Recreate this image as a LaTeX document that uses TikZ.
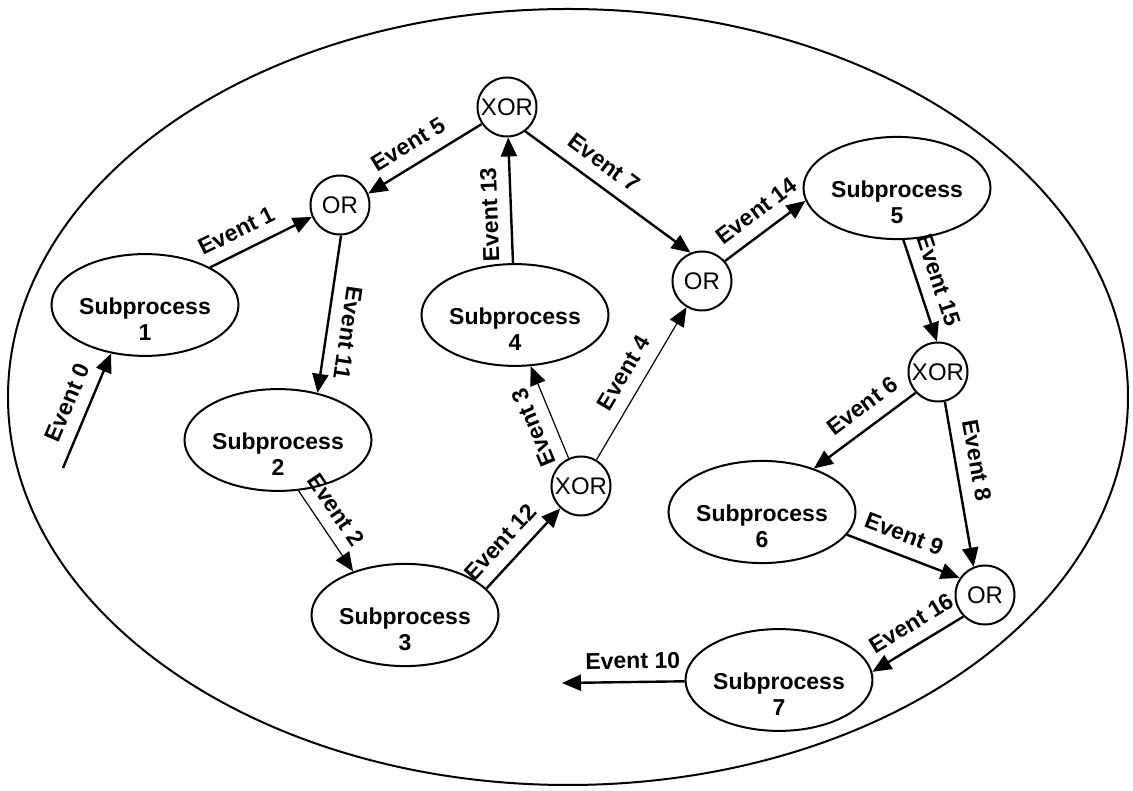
\documentclass[tikz,border=0pt]{standalone}
\usepackage{fontspec}
\setmainfont{Liberation Sans}
\usepackage{tikz}
\usetikzlibrary{arrows.meta, shapes.geometric, positioning}
\tikzset{
    boundary/.style = {draw, ellipse, line width=2pt, minimum width=1120pt, minimum height=776pt, 
      inner sep=0em, node distance=0em},
    subnode/.style = {draw, ellipse, line width=2pt, inner sep=0em, minimum width=187pt, 
      minimum height=84pt, node distance=0em, text height=72pt, 
      font=\fontsize{23}{26}\selectfont\bfseries},
    gatenode/.style = {draw, circle, line width=2pt, inner sep=0em, minimum size=59pt, 
      node distance=0em, font=\fontsize{24}{26}\selectfont},
    endpoint/.style = {node distance=0em},
    connect/.style = {black, line width=2.4pt, -{Triangle[length=19pt,width=16pt]}},
    thinconnect/.style = {connect, line width=1.2pt},
    evlabel/.style = {sloped, above, inner xsep=2pt, inner ysep=12pt, 
      font=\fontsize{23}{26}\selectfont\bfseries},
    every text node part/.style={align=center}
}

\begin{document}
\begin{tikzpicture}
    \useasboundingbox (-568pt,-394pt) rectangle (565pt,397pt);
    \node [name=procbox, boundary] {};

    \node [name=sub1, subnode, right of = procbox, xshift=-42.3em, yshift=9.2em] {Subprocess\\1};
    \node [name=sub2, subnode, right of = procbox, xshift=-29em, yshift=-4.3em] {Subprocess\\2};
    \node [name=sub3, subnode, right of = procbox, xshift=-16.3em, yshift=-21.8em] {Subprocess\\3};
    \node [name=sub4, subnode, right of = procbox, xshift=-5.3em, yshift=8.2em] {Subprocess\\4};
    \node [name=sub5, subnode, right of = procbox, xshift=32.9em, yshift=20.9em] {Subprocess\\5};
    \node [name=sub6, subnode, right of = procbox, xshift=19.4em, yshift=-11.5em] {Subprocess\\6};
    \node [name=sub7, subnode, right of = procbox, xshift=21.1em, yshift=-28.3em] {Subprocess\\7};

    \node [name=or1, gatenode, right of = procbox, xshift=-22.8em, yshift=19.2em] {OR};
    \node [name=xortop, gatenode, right of = procbox, xshift=-6.1em, yshift=29em] {XOR};
    \node [name=xormid, gatenode, right of = procbox, xshift=1.3em, yshift=-8.9em] {XOR};
    \node [name=ormid, gatenode, right of = procbox, xshift=13.4em, yshift=11.6em] {OR};
    \node [name=xorright, gatenode, right of = procbox, xshift=37em, yshift=2.5em] {XOR};
    \node [name=orbr, gatenode, right of = procbox, xshift=41.7em, yshift=-19.8em] {OR};

    \coordinate [name=in0, endpoint, left of = sub1, xshift=-8.2em, yshift=-16.3em];
    \coordinate [name=out10, endpoint, left of = sub7, xshift=-21.7em, yshift=-0.3em];

    % left half
    \draw (in0) edge[connect] node[evlabel, pos=0.5] {Event 0} (sub1.-125);
    \draw (sub1.30) edge[connect] node[evlabel, pos=0.35] {Event 1} (or1.203);
    \draw (xortop.214) edge[connect] node[evlabel, pos=0.55] {Event 5} (or1.22);
    \draw (or1.-88) edge[connect] node[evlabel, allow upside down, pos=0.6] {Event 11} (sub2.50);
    \draw (sub2.-68) edge[thinconnect] node[evlabel, pos=0.38] {Event 2} (sub3.140);
    \draw (sub3.18) edge[connect] node[evlabel, pos=0.4] {Event 12} (xormid);
    \draw (xormid.114) edge[thinconnect] node[evlabel, allow upside down, pos=0.42] {Event 3} (sub4.-73);
    \draw (xormid) edge[thinconnect] node[evlabel, pos=0.5] {Event 4} (ormid);
    \draw (sub4) edge[connect] node[evlabel, allow upside down, pos=0.39] {Event 13} (xortop);
    \draw (xortop.-53) edge[connect] node[evlabel, pos=0.4] {Event 7} (ormid.112);

    % right half
    \draw (ormid.41) edge[connect] node[evlabel, pos=0.55] {Event 14} (sub5.188);
    \draw (sub5.-83) edge[connect] node[evlabel, pos=0.46] {Event 15} (xorright.92);
    \draw (xorright.223) edge[connect] node[evlabel, pos=0.4] {Event 6} (sub6.40);
    \draw (xorright.-77) edge[connect] node[evlabel, pos=0.38] {Event 8} (orbr.112);
    \draw (sub6.-15) edge[connect] node[evlabel, pos=0.44] {Event 9} (orbr.146);
    \draw (orbr.225) edge[connect] node[evlabel, pos=0.45] {Event 16} (sub7.5);
    \draw (sub7) edge[connect] node[evlabel, pos=0.42] {Event 10} (out10);
\end{tikzpicture}
\end{document}
